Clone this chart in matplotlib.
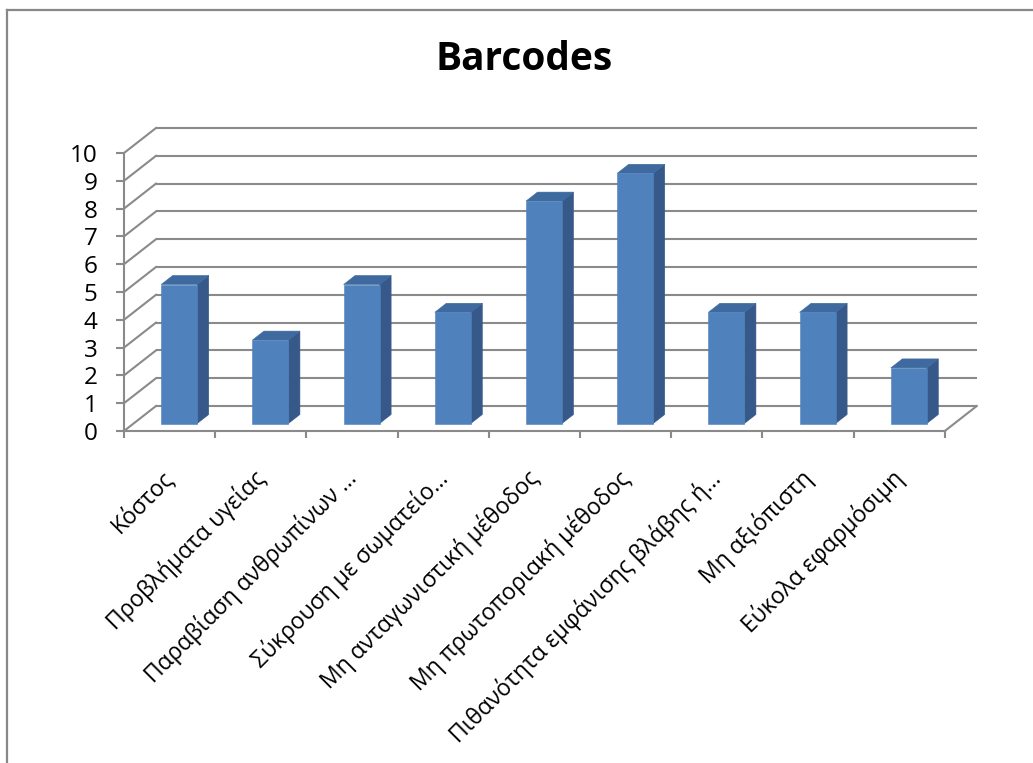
#! /usr/bin/env python3

# Barcodes: ψευδο-3D ραβδόγραμμα σε στυλ Excel

import numpy as np
import matplotlib
matplotlib.use('Agg')
import matplotlib.pyplot as plt
from matplotlib.patches import Polygon
from matplotlib.lines import Line2D
from matplotlib.transforms import ScaledTranslation

plt.rcParams['font.family'] = ['Open Sans', 'DejaVu Sans']

# δεδομένα
categories = ['Κόστος', 'Προβλήματα υγείας', 'Παραβίαση ανθρωπίνων …',
              'Σύκρουση με σωματείο…', 'Μη ανταγωνιστική μέθοδος',
              'Μη πρωτοποριακή μέθοδος', 'Πιθανότητα εμφάνισης βλάβης ή…',
              'Μη αξιόπιστη', 'Εύκολα εφαρμόσιμη']
values = [5, 3, 5, 4, 8, 9, 4, 4, 2]
yticks = list(range(0, 11))

W, H = 1033, 763
fig = plt.figure(figsize=(W / 100, H / 100), dpi=100)

# pixel mapping of the front plane
x0_px, sx = 124, 91.2      # category 0 edge, px per category
y0_px, sy = 431, 27.8      # value 0, px per unit
L, R, T, B = 20, 1010, 90, 700
ax = fig.add_axes([L / W, 1 - B / H, (R - L) / W, (B - T) / H])
ax.set_xlim((L - x0_px) / sx, (R - x0_px) / sx)
ax.set_ylim((y0_px - B) / sy, (y0_px - T) / sy)
ax.patch.set_alpha(0)

DX, DY = 32 / sx, 25 / sy   # depth offset in data units
n = len(values)
ymax = yticks[-1]
grid_c = '#8a8a8a'

# πίσω τοίχος, αριστερός τοίχος, δάπεδο
for k in yticks:
    ax.plot([DX, n + DX], [k + DY, k + DY], color=grid_c, lw=1.5, zorder=1,
            solid_capstyle='butt')
    ax.plot([0, DX], [k, k + DY], color=grid_c, lw=1.5, zorder=1)
ax.plot([n, n + DX], [0, DY], color=grid_c, lw=1.5, zorder=1)

# ράβδοι
front_c, side_c, top_c = '#4f81bd', '#36598a', '#3e6a9f'
f0, f1 = 0.30, 0.66
bw = 36 / sx
for i, v in enumerate(values):
    xa = i + 0.5 - bw / 2 + f0 * DX
    xb = xa + bw
    ya = f0 * DY
    ddx, ddy = (f1 - f0) * DX, (f1 - f0) * DY
    front = Polygon([(xa, ya), (xb, ya), (xb, ya + v), (xa, ya + v)],
                    closed=True, fc=front_c, ec=front_c, lw=0.4, zorder=3)
    side = Polygon([(xb, ya), (xb + ddx, ya + ddy), (xb + ddx, ya + v + ddy),
                    (xb, ya + v)], closed=True, fc=side_c, ec=side_c,
                   lw=0.4, zorder=2)
    top = Polygon([(xa, ya + v), (xb, ya + v), (xb + ddx, ya + v + ddy),
                   (xa + ddx, ya + v + ddy)], closed=True, fc=top_c,
                  ec=top_c, lw=0.4, zorder=2)
    for p in (side, top, front):
        ax.add_patch(p)

# άξονες
for s in ('top', 'right'):
    ax.spines[s].set_visible(False)
ax.spines['left'].set_position(('data', 0))
ax.spines['bottom'].set_position(('data', 0))
ax.spines['left'].set_bounds(0, ymax)
ax.spines['bottom'].set_bounds(0, n)
for s in ('left', 'bottom'):
    ax.spines[s].set_color(grid_c)
    ax.spines[s].set_linewidth(1.5)

ax.set_yticks(yticks)
ax.set_yticklabels([str(t) for t in yticks])
ax.tick_params(axis='y', direction='out', length=6, width=1.5, color=grid_c,
               labelsize=17.5, pad=13)

ax.set_xticks(np.arange(n + 1))
ax.set_xticklabels([])
ax.tick_params(axis='x', which='major', direction='out', length=5, width=1.5,
               color=grid_c)
ax.set_xticks(np.arange(n) + 0.5, minor=True)
ax.set_xticklabels(categories, minor=True, fontsize=16.5)
ax.tick_params(axis='x', which='minor', length=0, pad=25)
shift = ScaledTranslation(-6 / 72, 0, fig.dpi_scale_trans)
for lab in ax.get_xticklabels(minor=True):
    lab.set_rotation(45)
    lab.set_ha('right')
    lab.set_rotation_mode('anchor')
    lab.set_transform(lab.get_transform() + shift)

# τίτλος
fig.text(524 / W, 1 - 59 / H, 'Barcodes', ha='center', va='center',
         fontsize=28, weight='bold')

# περίγραμμα
fig.add_artist(Line2D([7 / W, 7 / W], [-0.1, 1 - 9.5 / H], color='#888888',
                      lw=1.6, transform=fig.transFigure))
fig.add_artist(Line2D([7 / W, 1.1], [1 - 9.5 / H, 1 - 9.5 / H],
                      color='#888888', lw=1.6, transform=fig.transFigure))

fig.savefig('out.png', dpi=100)
